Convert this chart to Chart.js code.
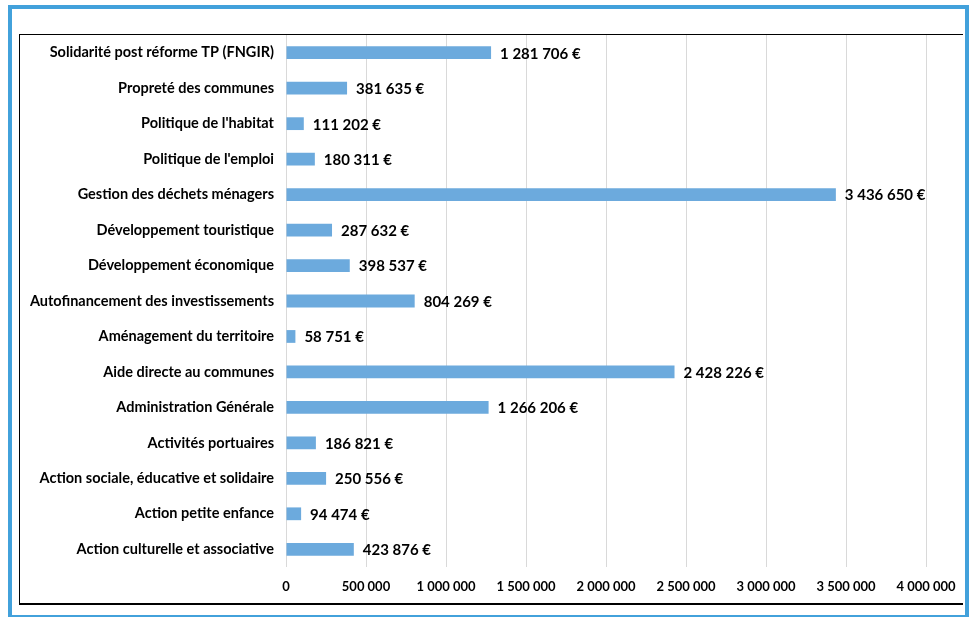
<!DOCTYPE html>
<html>
<head>
<meta charset="utf-8">
<script src="https://cdn.jsdelivr.net/npm/chart.js@4/dist/chart.umd.min.js"></script>
<style>
    body { margin: 0; background: #fff; }
    #cadre { position: absolute; left: 8px; top: 5px; width: 961px; height: 614px; box-sizing: border-box; border: 4px solid #42A1DB; }
    #boite { position: absolute; left: 19px; top: 34px; width: 944px; height: 571px; box-sizing: border-box;
             border-left: 1px solid #000; border-top: 1px solid #000; border-bottom: 2px solid #000; }
    #zone { position: absolute; left: 20px; top: 35px; width: 943px; height: 568px; }
</style>
</head>
<body>
<div id="cadre"></div>
<div id="boite"></div>
<div id="zone"><canvas id="myChart"></canvas></div>
<script>
// donnees du graphique (du haut vers le bas)
var categories = [
    'Solidarité post réforme TP (FNGIR)',
    'Propreté des communes',
    "Politique de l'habitat",
    "Politique de l'emploi",
    'Gestion des déchets ménagers',
    'Développement touristique',
    'Développement économique',
    'Autofinancement des investissements',
    'Aménagement du territoire',
    'Aide directe au communes',
    'Administration Générale',
    'Activités portuaires',
    'Action sociale, éducative et solidaire',
    'Action petite enfance',
    'Action culturelle et associative'
];
var montants = [1281706, 381635, 111202, 180311, 3436650, 287632, 398537, 804269,
                58751, 2428226, 1266206, 186821, 250556, 94474, 423876];
var axeMax = 4000000;
var axePas = 500000;

/******************************************/
function formatNombre(v){
    return String(v).replace(/\B(?=(\d{3})+(?!\d))/g, ' ');
}

// plugin pour les etiquettes de valeur
var etiquettes = {
    id: 'etiquettes',
    afterDatasetsDraw: function(chart){
        var ctx = chart.ctx;
        var meta = chart.getDatasetMeta(0);
        ctx.save();
        ctx.font = 'bold 15px Lato';
        ctx.fillStyle = '#000';
        ctx.textAlign = 'left';
        ctx.textBaseline = 'middle';
        meta.data.forEach(function(bar, i){
            ctx.fillText(formatNombre(montants[i]) + ' €', bar.x + 9, bar.y + 1);
        });
        ctx.restore();
    }
};

/**************************************************/
var ctx = document.getElementById('myChart').getContext('2d');
var myChart = new Chart(ctx, {
    type: 'bar',
    data: {
        labels: categories,
        datasets: [{
            data: montants,
            backgroundColor: '#6CAADD',
            borderWidth: 0,
            barPercentage: 0.6,
            categoryPercentage: 0.6
        }]
    },
    plugins: [etiquettes],
    options: {
        indexAxis: 'y',
        responsive: true,
        maintainAspectRatio: false,
        animation: false,
        layout: { padding: { left: 0, right: 37, top: 0, bottom: 0 } },
        plugins: {
            legend: { display: false },
            tooltip: { enabled: false }
        },
        scales: {
            x: {
                min: 0,
                max: axeMax,
                afterFit: function(scale){
                    scale.height = 36;
                    scale.paddingLeft = 0;
                    scale.paddingRight = 0;
                },
                grid: { color: '#D9D9D9', lineWidth: 1, drawTicks: false },
                border: { display: false },
                ticks: {
                    stepSize: axePas,
                    padding: 12,
                    color: '#000',
                    font: { family: 'Lato', weight: 'bold', size: 13 },
                    callback: function(v){ return formatNombre(v); }
                }
            },
            y: {
                afterFit: function(scale){
                    scale.width = 266;
                    scale.paddingTop = 0;
                    scale.paddingBottom = 0;
                },
                grid: { display: false, drawTicks: false },
                border: { display: false },
                ticks: {
                    padding: 12,
                    color: '#000',
                    font: { family: 'Lato', weight: 'bold', size: 14.5 }
                }
            }
        }
    }
});
</script>
</body>
</html>
